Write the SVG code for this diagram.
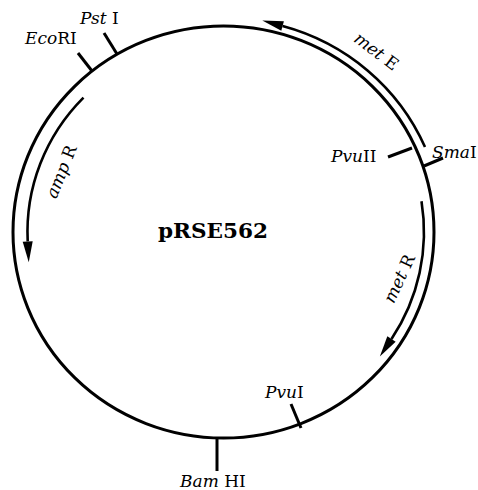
<svg xmlns="http://www.w3.org/2000/svg" width="478" height="490" viewBox="0 0 478 490">
  <style>
    .lbl { font-family: "DejaVu Serif", "Liberation Serif", serif; font-size: 17px; fill: #000; }
    .it { font-style: italic; }
    .title { font-family: "DejaVu Serif", "Liberation Serif", serif; font-size: 21px; font-weight: bold; fill: #000; }
    .ring { fill: none; stroke: #000; stroke-width: 3; }
    .tick { stroke: #000; stroke-width: 3; stroke-linecap: butt; }
    .gene { fill: none; stroke: #000; stroke-width: 2.6; marker-end: url(#head); }
  </style>
  <defs>
    <marker id="head" markerUnits="userSpaceOnUse" markerWidth="24" markerHeight="12" refX="0" refY="5" orient="auto" overflow="visible">
      <path d="M0,0 L21,5 L0,10 Z" fill="#000"/>
    </marker>
  </defs>
  <rect width="478" height="490" fill="#fff"/>

  <!-- plasmid backbone -->
  <g id="plasmid">
    <ellipse class="ring" cx="223.5" cy="232" rx="210.5" ry="206"/>
    <text class="title" x="158" y="238" textLength="110" lengthAdjust="spacingAndGlyphs">pRSE562</text>
  </g>

  <!-- restriction sites -->
  <g id="site-ecori">
    <line class="tick" x1="92" y1="71" x2="78" y2="53"/>
    <text class="lbl" x="25" y="44"><tspan class="it">Eco</tspan>RI</text>
  </g>
  <g id="site-psti">
    <line class="tick" x1="117" y1="54" x2="104" y2="33"/>
    <text class="lbl" x="80" y="24"><tspan class="it">Pst</tspan> I</text>
  </g>
  <g id="site-pvuii">
    <line class="tick" x1="412" y1="148" x2="388" y2="157"/>
    <text class="lbl" x="331" y="162"><tspan class="it">Pvu</tspan>II</text>
  </g>
  <g id="site-smai">
    <line class="tick" x1="424" y1="166" x2="443" y2="158"/>
    <text class="lbl" x="432" y="158"><tspan class="it">Sma</tspan>I</text>
  </g>
  <g id="site-pvui">
    <line class="tick" x1="301" y1="428" x2="291" y2="404"/>
    <text class="lbl" x="265" y="398"><tspan class="it">Pvu</tspan>I</text>
  </g>
  <g id="site-bamhi">
    <line class="tick" x1="217" y1="437" x2="217" y2="471"/>
    <text class="lbl" x="180" y="487"><tspan class="it">Bam</tspan> HI</text>
  </g>

  <!-- genes with transcription direction -->
  <g id="connectors">
    <path class="gene" d="M425,147 A218.5,214 0 0 0 282.6,26"/>
    <path class="gene" d="M421.5,201.3 A200.5,196 0 0 1 391.5,339"/>
    <path class="gene" d="M83.5,97.6 A196,192 0 0 0 27.7,241.4"/>
  </g>

  <g id="gene-mete">
    <text class="lbl" text-anchor="middle" transform="translate(376,52) rotate(37)" y="5"><tspan class="it">met</tspan> E</text>
  </g>
  <g id="gene-metr">
    <text class="lbl" text-anchor="middle" transform="translate(400,279) rotate(-65)" y="5"><tspan class="it">met</tspan> R</text>
  </g>
  <g id="gene-ampr">
    <text class="lbl" text-anchor="middle" transform="translate(62,172) rotate(-68)" y="5"><tspan class="it">amp</tspan> R</text>
  </g>
</svg>
